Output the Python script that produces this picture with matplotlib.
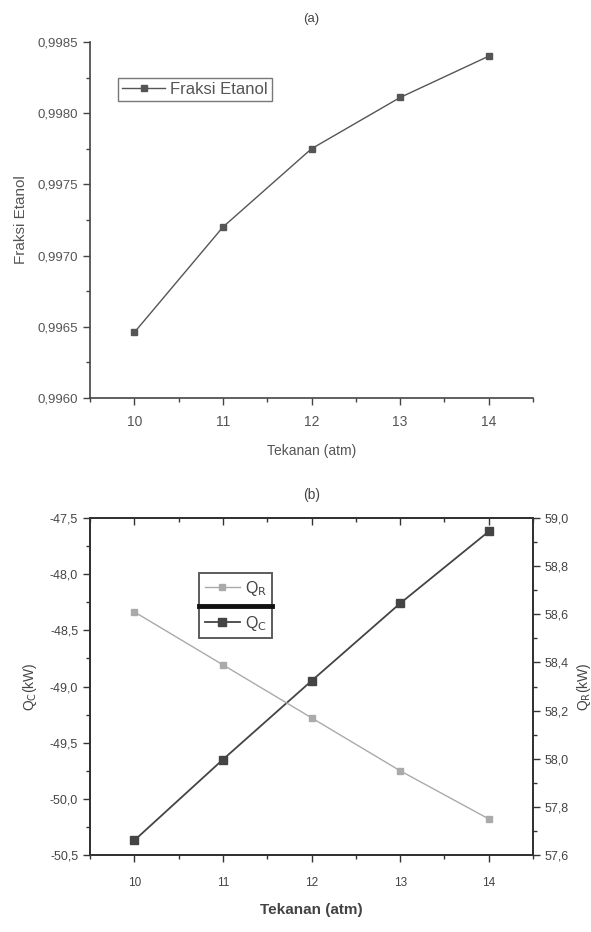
import matplotlib
matplotlib.use("Agg")
import matplotlib.pyplot as plt
from matplotlib.ticker import FuncFormatter, MultipleLocator
from matplotlib.lines import Line2D

plt.rcParams['font.family'] = ['Liberation Sans', 'DejaVu Sans']

tekanan = [10, 11, 12, 13, 14]
fraksi_etanol = [0.99646, 0.99720, 0.99775, 0.99811, 0.99840]
q_c = [-50.37, -49.65, -48.95, -48.26, -47.62]
q_r = [58.61, 58.39, 58.17, 57.95, 57.75]

def comma(dec):
    return FuncFormatter(lambda v, p: f"{v:.{dec}f}".replace('.', ',').replace('\u2212', '-'))

fig = plt.figure(figsize=(5.91, 9.32), dpi=100)

# ---------- (a)
ax1 = fig.add_axes([0.1523, 0.573, 0.7496, 0.382])
ax1.plot(tekanan, fraksi_etanol, color='#555555', marker='s', markersize=5,
         lw=1.0, label='Fraksi Etanol')
ax1.set_xlim(9.5, 14.5)
ax1.set_ylim(0.9960, 0.9985)
ax1.xaxis.set_major_locator(MultipleLocator(1))
ax1.xaxis.set_minor_locator(MultipleLocator(0.5))
ax1.yaxis.set_major_locator(MultipleLocator(0.0005))
ax1.yaxis.set_minor_locator(MultipleLocator(0.00025))
ax1.yaxis.set_major_formatter(comma(4))
ax1.spines['top'].set_visible(False)
ax1.spines['right'].set_visible(False)
for s in ['left', 'bottom']:
    ax1.spines[s].set_color('#444444')
    ax1.spines[s].set_linewidth(1.2)
ax1.tick_params(which='major', direction='out', length=5, width=1, colors='#444444',
                labelcolor='#555555')
ax1.tick_params(axis='y', labelsize=9.5)
ax1.tick_params(axis='x', labelsize=10, pad=7)
ax1.tick_params(which='minor', direction='out', length=3, width=1, colors='#444444')
ax1.set_title('(a)', fontsize=9.5, color='#444444', pad=14)
ax1.set_xlabel('Tekanan (atm)', fontsize=10, color='#555555', labelpad=11)
ax1.set_ylabel('Fraksi Etanol', fontsize=11, color='#555555', labelpad=7)
leg1 = ax1.legend(loc='upper left', bbox_to_anchor=(0.063, 0.899), frameon=True,
                  fancybox=False, edgecolor='#555555', fontsize=12, handlelength=2.6,
                  borderpad=0.25, handletextpad=0.3, borderaxespad=0)
for t in leg1.get_texts():
    t.set_color('#555555')

# ---------- (b)
ax2 = fig.add_axes([0.1523, 0.0826, 0.7496, 0.3616])
ax3 = ax2.twinx()
l_c, = ax2.plot(tekanan, q_c, color='#444444', marker='s', markersize=6, lw=1.3,
                label='Q$_\\mathrm{C}$')
l_r, = ax3.plot(tekanan, q_r, color='#aaaaaa', marker='s', markersize=5, lw=1.0,
                label='Q$_\\mathrm{R}$')
ax2.set_xlim(9.5, 14.5)
ax2.set_ylim(-50.5, -47.5)
ax3.set_ylim(57.6, 59.0)
ax2.xaxis.set_major_locator(MultipleLocator(1))
ax2.xaxis.set_minor_locator(MultipleLocator(0.5))
ax2.yaxis.set_major_locator(MultipleLocator(0.5))
ax2.yaxis.set_minor_locator(MultipleLocator(0.25))
ax3.yaxis.set_major_locator(MultipleLocator(0.2))
ax3.yaxis.set_minor_locator(MultipleLocator(0.1))
ax2.yaxis.set_major_formatter(comma(1))
ax3.yaxis.set_major_formatter(comma(1))
for a in (ax2, ax3):
    for s in a.spines.values():
        s.set_color('#333333')
        s.set_linewidth(1.4)
ax2.tick_params(which='major', direction='out', length=5, width=1, colors='#333333',
                labelcolor='#444444')
ax2.tick_params(axis='y', labelsize=9)
ax2.tick_params(axis='x', labelsize=8.5, pad=11)
ax2.tick_params(which='minor', direction='out', length=3, width=1, colors='#333333')
ax3.tick_params(which='major', direction='out', length=5, width=1, colors='#333333',
                labelsize=9, labelcolor='#444444')
ax3.tick_params(which='minor', direction='out', length=3, width=1, colors='#333333')

top = ax2.secondary_xaxis('top')
top.xaxis.set_major_locator(MultipleLocator(1))
top.xaxis.set_minor_locator(MultipleLocator(0.5))
top.tick_params(which='major', direction='in', length=5, width=1, colors='#333333',
                labeltop=False)
top.tick_params(which='minor', direction='in', length=3, width=1, colors='#333333')
top.spines['top'].set_color('#333333')
top.spines['top'].set_linewidth(1.4)

ax2.set_title('(b)', fontsize=10, color='#444444', pad=14)
ax2.set_xlabel('Tekanan (atm)', fontsize=11, color='#444444', labelpad=10,
               fontweight='bold')
ax2.set_ylabel('Q$_\\mathrm{C}$(kW)', fontsize=10, color='#444444', labelpad=8)
ax3.set_ylabel('Q$_\\mathrm{R}$(kW)', fontsize=10, color='#444444', labelpad=4)

leg2 = ax2.legend(handles=[l_r, l_c], loc='upper left', bbox_to_anchor=(0.246, 0.837),
                  frameon=True, fancybox=False, edgecolor='#333333', fontsize=11.5,
                  handlelength=2.2, borderpad=0.35, handletextpad=0.3,
                  borderaxespad=0, labelspacing=1.0)
leg2.get_frame().set_linewidth(1.4)
for t in leg2.get_texts():
    t.set_color('#444444')
fig.canvas.draw()
bb = leg2.get_window_extent().transformed(ax2.transAxes.inverted())
ymid = (bb.y0 + bb.y1) / 2
ax2.add_line(Line2D([bb.x0, bb.x1], [ymid, ymid], transform=ax2.transAxes,
                    color='#111111', lw=3.5, zorder=10, clip_on=False))

fig.savefig('out.png', dpi=100)
